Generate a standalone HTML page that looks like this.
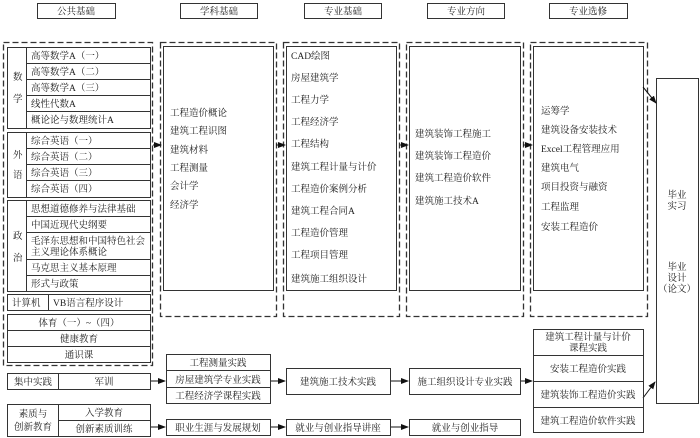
<!DOCTYPE html>
<html><head><meta charset="utf-8"><style>
html,body{margin:0;padding:0;background:#fff;}
svg{display:block;}
text{font-family:"Liberation Serif","Noto Serif CJK SC",serif;font-size:9.5px;fill:#222;}
.s{fill:none;stroke:#333;stroke-width:1;}
.d{fill:none;stroke:#333;stroke-width:1.3;stroke-dasharray:6,3;}
.c{text-anchor:middle;}
</style></head><body>
<svg width="700" height="438" viewBox="0 0 700 438" xmlns="http://www.w3.org/2000/svg">
<defs><marker id="a" markerWidth="8" markerHeight="6" refX="7" refY="3" orient="auto" markerUnits="userSpaceOnUse"><path d="M0,0 L8,3 L0,6 z" fill="#111"/></marker></defs>
<!-- headers -->
<g class="s"><rect x="37.5" y="3.5" width="78" height="15"/><rect x="180.5" y="3.5" width="77" height="15"/><rect x="304.5" y="3.5" width="77" height="15"/><rect x="427.5" y="3.5" width="77" height="15"/><rect x="549.5" y="3.5" width="78" height="15"/></g>
<text class="c" x="76" y="14.5">公共基础</text><text class="c" x="219" y="14.5">学科基础</text><text class="c" x="343" y="14.5">专业基础</text><text class="c" x="466" y="14.5">专业方向</text><text class="c" x="588" y="14.5">专业选修</text>
<!-- dashed columns -->
<rect class="d" x="3.5" y="42.5" width="149" height="323"/>
<rect class="d" x="160.5" y="42.5" width="116" height="274"/>
<rect class="d" x="283.5" y="42.5" width="116" height="274"/>
<rect class="d" x="406.5" y="42.5" width="117" height="274"/>
<rect class="d" x="530.5" y="42.5" width="117" height="274"/>
<g class="s"><rect x="163.5" y="46.5" width="110" height="244"/><rect x="286.5" y="46.5" width="110" height="244"/><rect x="409.5" y="46.5" width="111" height="244"/><rect x="533.5" y="46.5" width="110" height="244"/><rect x="656.5" y="78.5" width="42" height="325"/></g>
<!-- col1 -->
<g class="s">
<rect x="7.5" y="47.5" width="143" height="81"/><line x1="26.5" y1="47" x2="26.5" y2="128"/>
<line x1="26" y1="63.5" x2="150" y2="63.5"/><line x1="26" y1="79.5" x2="150" y2="79.5"/><line x1="26" y1="95.5" x2="150" y2="95.5"/><line x1="26" y1="111.5" x2="150" y2="111.5"/>
<rect x="7.5" y="132.5" width="143" height="65"/><line x1="26.5" y1="132" x2="26.5" y2="197"/>
<line x1="26" y1="148.5" x2="150" y2="148.5"/><line x1="26" y1="164.5" x2="150" y2="164.5"/><line x1="26" y1="180.5" x2="150" y2="180.5"/>
<rect x="7.5" y="200.5" width="143" height="91"/><line x1="26.5" y1="200" x2="26.5" y2="291"/>
<line x1="26" y1="216.5" x2="150" y2="216.5"/><line x1="26" y1="232.5" x2="150" y2="232.5"/><line x1="26" y1="259.5" x2="150" y2="259.5"/><line x1="26" y1="275.5" x2="150" y2="275.5"/>
<rect x="7.5" y="294.5" width="143" height="16"/><line x1="48.5" y1="294" x2="48.5" y2="310"/>
<rect x="7.5" y="314.5" width="143" height="48"/><line x1="7" y1="330.5" x2="150" y2="330.5"/><line x1="7" y1="346.5" x2="150" y2="346.5"/>
</g>
<text x="13" y="80">数</text><text x="13" y="102">学</text>
<text x="31" y="59">高等数学A（一）</text><text x="31" y="75">高等数学A（二）</text><text x="31" y="91">高等数学A（三）</text><text x="31" y="107">线性代数A</text><text x="31" y="123">概论论与数理统计A</text>
<text x="13" y="158">外</text><text x="13" y="178">语</text>
<text x="31" y="144">综合英语（一）</text><text x="31" y="160">综合英语（二）</text><text x="31" y="176">综合英语（三）</text><text x="31" y="192">综合英语（四）</text>
<text x="13" y="239">政</text><text x="13" y="261">治</text>
<text x="31" y="212">思想道德修养与法律基础</text><text x="31" y="228">中国近现代史纲要</text><text x="31" y="244">毛泽东思想和中国特色社会</text><text x="31" y="255">主义理论体系概论</text><text x="31" y="271">马克思主义基本原理</text><text x="31" y="287">形式与政策</text>
<text x="12" y="306">计算机</text><text x="53" y="306">VB语言程序设计</text>
<text class="c" x="79" y="326">体育（一）~（四）</text><text class="c" x="79" y="342">健康教育</text><text class="c" x="79" y="358">通识课</text>
<!-- col2 -->
<text x="170" y="116">工程造价概论</text><text x="170" y="134">建筑工程识图</text><text x="170" y="153">建筑材料</text><text x="170" y="171">工程测量</text><text x="170" y="189">会计学</text><text x="170" y="208">经济学</text>
<!-- col3 -->
<text x="291" y="59">CAD绘图</text><text x="291" y="81">房屋建筑学</text><text x="291" y="103">工程力学</text><text x="291" y="125">工程经济学</text><text x="291" y="147">工程结构</text><text x="291" y="170">建筑工程计量与计价</text><text x="291" y="192">工程造价案例分析</text><text x="291" y="214">建筑工程合同A</text><text x="291" y="236">工程造价管理</text><text x="291" y="258">工程项目管理</text><text x="291" y="282">建筑施工组织设计</text>
<!-- col4 -->
<text x="415" y="137">建筑装饰工程施工</text><text x="415" y="159">建筑装饰工程造价</text><text x="415" y="181">建筑工程造价软件</text><text x="415" y="204">建筑施工技术A</text>
<!-- col5 -->
<text x="541" y="114">运筹学</text><text x="541" y="133">建筑设备安装技术</text><text x="541" y="152">Excel工程管理应用</text><text x="541" y="171">建筑电气</text><text x="541" y="190">项目投资与融资</text><text x="541" y="210">工程监理</text><text x="541" y="230">安装工程造价</text>
<!-- right -->
<text class="c" x="677" y="198">毕业</text><text class="c" x="677" y="209">实习</text>
<text class="c" x="677" y="270">毕业</text><text class="c" x="677" y="281">设计</text><text class="c" x="677" y="292">（论文）</text>
<!-- arrows top -->
<g stroke="#111" stroke-width="1" marker-end="url(#a)">
<line x1="153" y1="145" x2="161" y2="145"/><line x1="276" y1="145" x2="285" y2="145"/><line x1="400" y1="145" x2="408" y2="145"/><line x1="523" y1="145" x2="532" y2="145"/>
<line x1="643" y1="87" x2="656" y2="103"/>
<line x1="150" y1="381" x2="165" y2="381"/><line x1="270" y1="381" x2="285" y2="381"/><line x1="390" y1="381" x2="408" y2="381"/><line x1="520" y1="381" x2="532" y2="381"/>
<line x1="643" y1="398" x2="655" y2="382"/>
<line x1="150" y1="427" x2="165" y2="427"/><line x1="270" y1="427" x2="285" y2="427"/><line x1="390" y1="427" x2="408" y2="427"/>
</g>
<!-- bottom -->
<g class="s">
<rect x="7.5" y="373.5" width="143" height="16"/><line x1="58.5" y1="373" x2="58.5" y2="389"/>
<rect x="7.5" y="404.5" width="143" height="32"/><line x1="58.5" y1="404" x2="58.5" y2="436"/><line x1="58" y1="420.5" x2="150" y2="420.5"/>
<rect x="166.5" y="354.5" width="104" height="49"/><line x1="166" y1="370.5" x2="270" y2="370.5"/><line x1="166" y1="387.5" x2="270" y2="387.5"/>
<rect x="286.5" y="368.5" width="104" height="26"/>
<rect x="409.5" y="368.5" width="111" height="26"/>
<rect x="533.5" y="329.5" width="110" height="103"/><line x1="533" y1="355.5" x2="643" y2="355.5"/><line x1="533" y1="381.5" x2="643" y2="381.5"/><line x1="533" y1="407.5" x2="643" y2="407.5"/>
<rect x="166.5" y="419.5" width="104" height="16"/><rect x="286.5" y="419.5" width="104" height="16"/><rect x="409.5" y="419.5" width="111" height="16"/>
</g>
<text class="c" x="33" y="385">集中实践</text><text class="c" x="104" y="385">军训</text>
<text class="c" x="33" y="417">素质与</text><text class="c" x="33" y="430">创新教育</text><text class="c" x="104" y="416">入学教育</text><text class="c" x="104" y="432">创新素质训练</text>
<text class="c" x="218" y="366">工程测量实践</text><text class="c" x="218" y="383">房屋建筑学专业实践</text><text class="c" x="218" y="399">工程经济学课程实践</text>
<text class="c" x="338" y="385">建筑施工技术实践</text><text class="c" x="465" y="385">施工组织设计专业实践</text>
<text class="c" x="588" y="340">建筑工程计量与计价</text><text class="c" x="588" y="351">课程实践</text><text class="c" x="588" y="372">安装工程造价实践</text><text class="c" x="588" y="398">建筑装饰工程造价实践</text><text class="c" x="588" y="424">建筑工程造价软件实践</text>
<text class="c" x="218" y="431">职业生涯与发展规划</text><text class="c" x="338" y="431">就业与创业指导讲座</text><text class="c" x="465" y="431">就业与创业指导</text>
</svg>
</body></html>
